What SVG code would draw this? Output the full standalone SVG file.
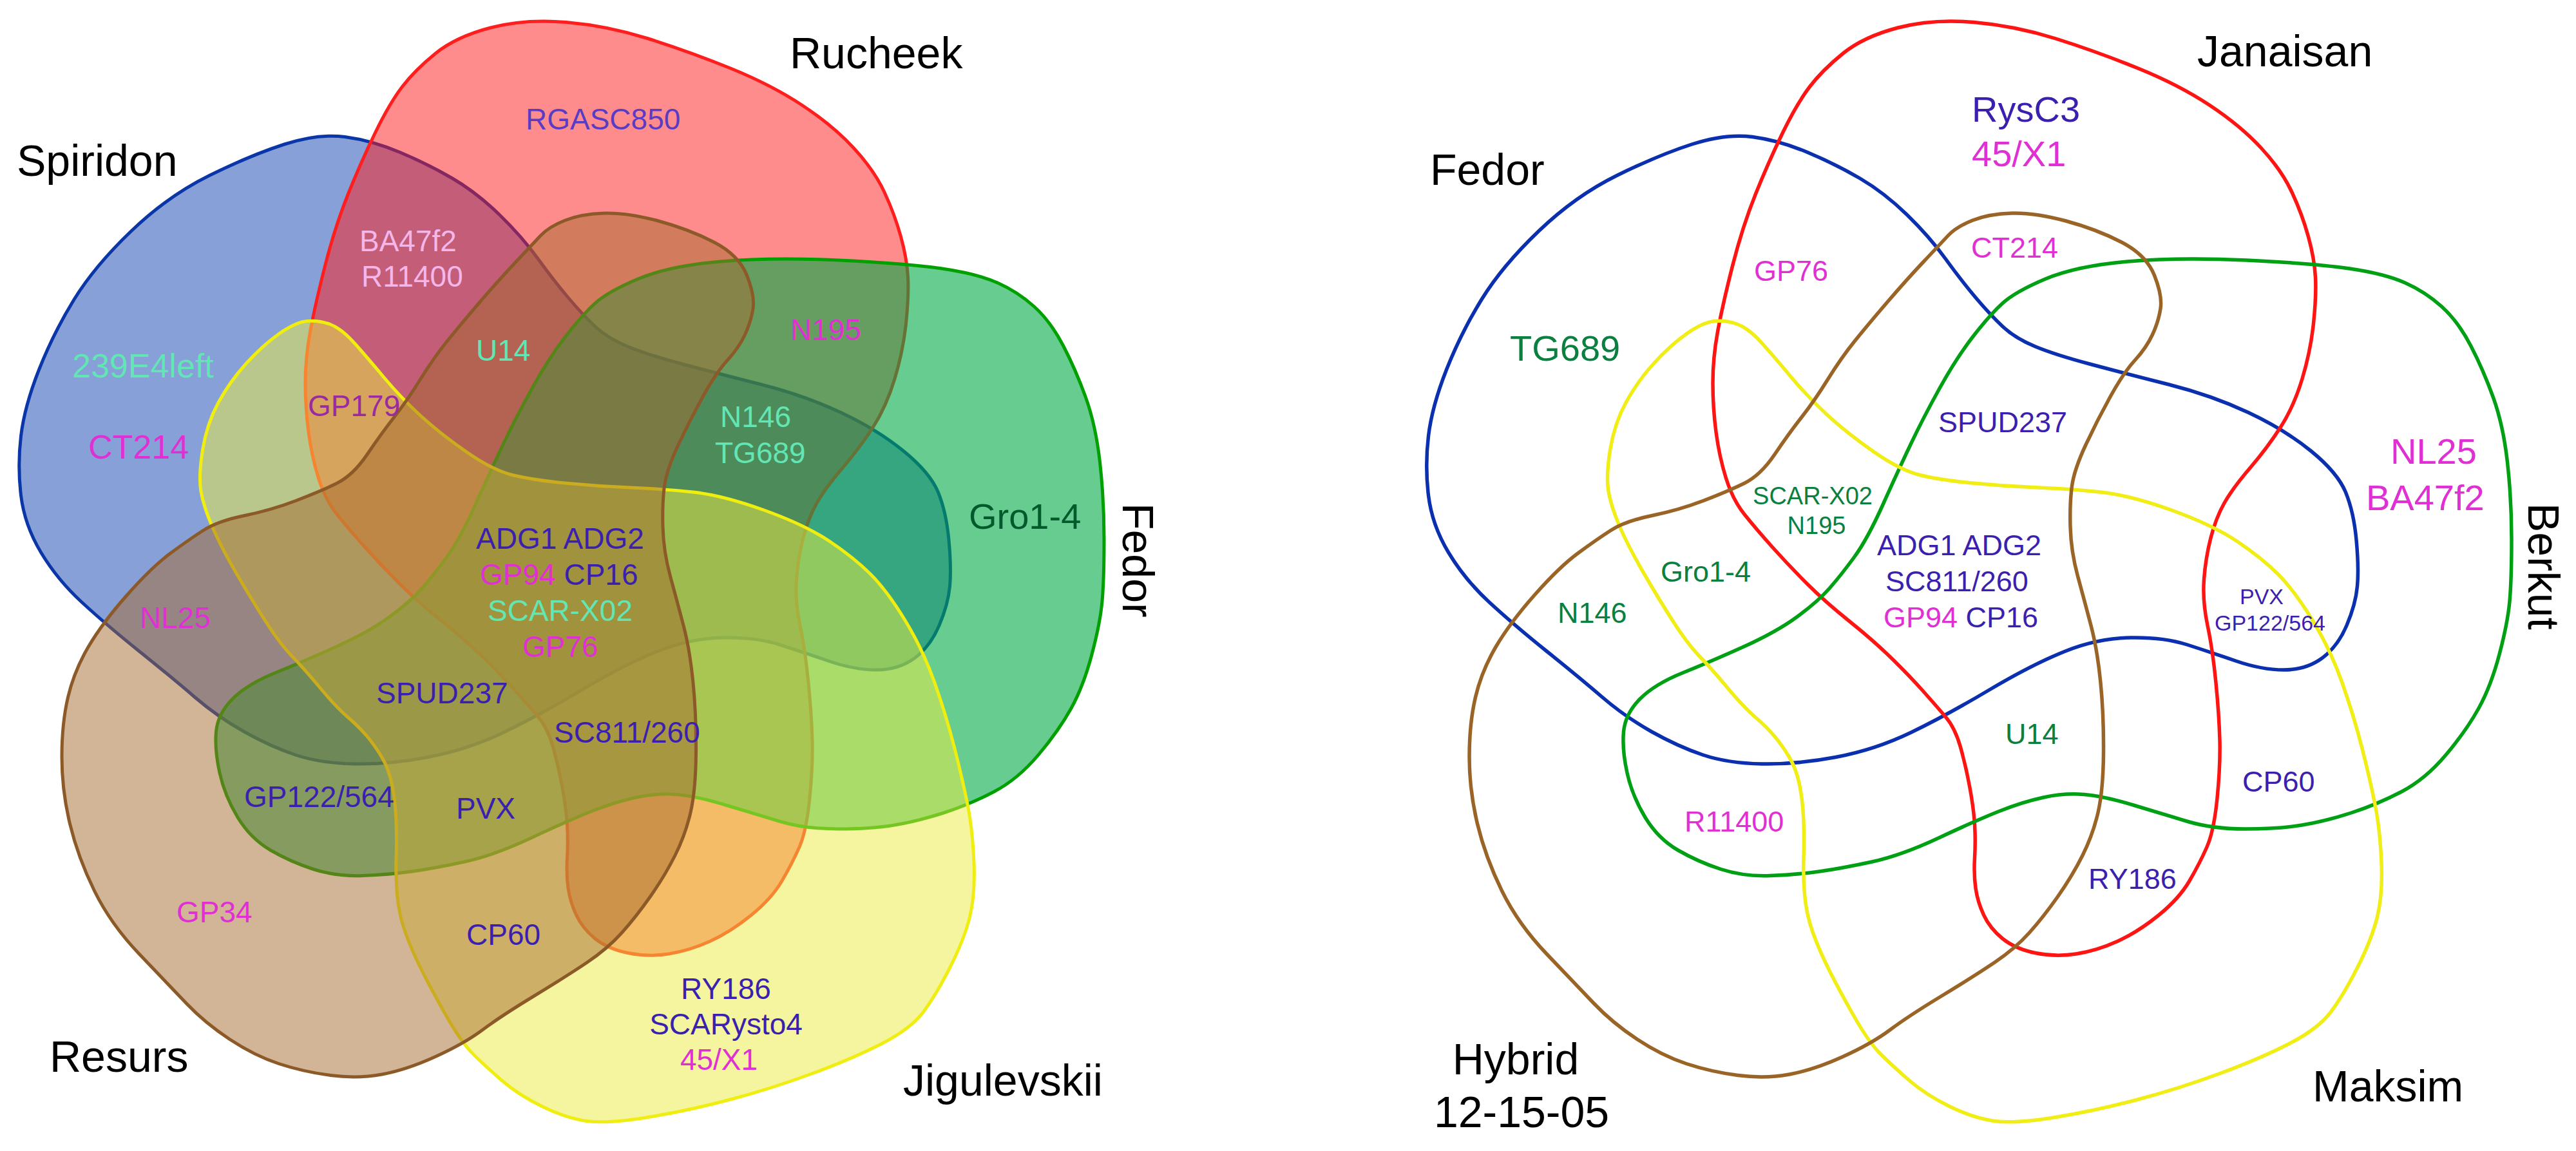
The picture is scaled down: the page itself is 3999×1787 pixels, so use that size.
<svg xmlns="http://www.w3.org/2000/svg" width="3999" height="1787" viewBox="0 0 3999 1787">
<style>
text{font-family:"Liberation Sans",Arial,Helvetica,sans-serif}
.t{font-size:68px;fill:#000}
.s{font-size:45px}
.sl{font-size:46px}
.m{font-size:56px}
.xs{font-size:38px}
.xxs{font-size:34px}
.ind{fill:#3b1fae}
.mag{fill:#e030d4}
.grn{fill:#0a8040}
.aq{fill:#62e6b4}
.pk{fill:#f5b6ea}
.pur{fill:#9a2aa0}
.dg{fill:#005a2c}
.L{transform:translate(-2185px,0px)}
.o{fill:none;stroke-width:5.5}
</style>
<defs>
<path id="pB" d="M2626.5,224 Q2679,207 2720.5,212.5 Q2762,218 2806,236.5 Q2850,255 2887.5,277 Q2925,299 2960,333 Q2995,367 3020,401.5 Q3045,436 3067,462 Q3089,488 3108.5,506.5 Q3128,525 3159.5,538 Q3191,551 3245.5,565.5 Q3300,580 3367,597 Q3434,614 3490.5,640.5 Q3547,667 3588,700.5 Q3629,734 3641.5,764.5 Q3654,795 3658,838.5 Q3662,882 3659.5,910 Q3657,938 3643,971 Q3629,1004 3604.5,1022 Q3580,1040 3545.5,1040 Q3511,1040 3470.5,1026 Q3430,1012 3394,1000.5 Q3358,989 3307,990 Q3256,991 3205,1011.5 Q3154,1032 3087.5,1071.5 Q3021,1111 2966,1137.5 Q2911,1164 2850,1175.5 Q2789,1187 2735.5,1186 Q2682,1185 2643.5,1172 Q2605,1159 2564,1136 Q2523,1113 2487.5,1082.5 Q2452,1052 2401,1011 Q2350,970 2312,935 Q2274,900 2248.5,857.5 Q2223,815 2217.5,769 Q2212,723 2217.5,677 Q2223,631 2245.5,574 Q2268,517 2300,465 Q2332,413 2389,358.5 Q2446,304 2510,272.5 Q2574,241 2626.5,224 Z"/>
<path id="pR" d="M2946.5,43 Q3000,29 3064,34.5 Q3128,40 3191.5,60 Q3255,80 3319,106 Q3383,132 3430.5,163.5 Q3478,195 3510,229.5 Q3542,264 3558,298.5 Q3574,333 3583.5,367.5 Q3593,402 3594.5,430.5 Q3596,459 3591.5,502 Q3587,545 3574,588 Q3561,631 3540.5,663 Q3520,695 3493,726.5 Q3466,758 3453,781 Q3440,804 3432,835 Q3424,866 3421.5,899.5 Q3419,933 3427,971 Q3435,1009 3440,1060 Q3445,1111 3446,1149.5 Q3447,1188 3442,1239 Q3437,1290 3426,1315 Q3415,1340 3399,1367.5 Q3383,1395 3351,1421 Q3319,1447 3287,1461.5 Q3255,1476 3223,1481 Q3191,1486 3159.5,1479.5 Q3128,1473 3108.5,1457 Q3089,1441 3079.5,1420.5 Q3070,1400 3067,1379 Q3064,1358 3065.5,1331.5 Q3067,1305 3065.5,1280.5 Q3064,1256 3058,1223 Q3052,1190 3043.5,1160 Q3035,1130 3020,1112.5 Q3005,1095 2985,1072.5 Q2965,1050 2937,1022.5 Q2909,995 2871,964.5 Q2833,934 2805,906 Q2777,878 2751.5,849.5 Q2726,821 2708,798.5 Q2690,776 2679.5,742.5 Q2669,709 2664,671 Q2659,633 2659,594.5 Q2659,556 2666.5,515 Q2674,474 2689.5,413 Q2705,352 2725.5,301 Q2746,250 2768,205 Q2790,160 2809.5,134.5 Q2829,109 2861,83 Q2893,57 2946.5,43 Z"/>
<path id="pG" d="M3303,406 Q3383,399 3488,404 Q3593,409 3647.5,417 Q3702,425 3733.5,439 Q3765,453 3790.5,476 Q3816,499 3835.5,536.5 Q3855,574 3870.5,617 Q3886,660 3892.5,717.5 Q3899,775 3899,837.5 Q3899,900 3896,933.5 Q3893,967 3880,1016 Q3867,1065 3848,1099.5 Q3829,1134 3797,1172 Q3765,1210 3727.5,1229.5 Q3690,1249 3650,1262 Q3610,1275 3573.5,1281 Q3537,1287 3486,1287 Q3435,1287 3396.5,1275.5 Q3358,1264 3312,1250 Q3266,1236 3235.5,1233.5 Q3205,1231 3172.5,1238 Q3140,1245 3103.5,1259.5 Q3067,1274 3009.5,1301 Q2952,1328 2906,1338 Q2860,1348 2824.5,1353 Q2789,1358 2748,1359.5 Q2707,1361 2671.5,1349.5 Q2636,1338 2605,1320 Q2574,1302 2554,1269 Q2534,1236 2526,1200 Q2518,1164 2520.5,1136 Q2523,1108 2546,1085 Q2569,1062 2612.5,1044.5 Q2656,1027 2707,1004 Q2758,981 2790,957.5 Q2822,934 2840,913.5 Q2858,893 2878.5,865 Q2899,837 2923,783.5 Q2947,730 2966.5,689 Q2986,648 3011.5,602 Q3037,556 3062.5,523 Q3088,490 3108,471.5 Q3128,453 3175.5,433 Q3223,413 3303,406 Z"/>
<path id="pY" d="M2662,498.5 Q2680,497 2697.5,503.5 Q2715,510 2735.5,533 Q2756,556 2781.5,586.5 Q2807,617 2837.5,645 Q2868,673 2909,701.5 Q2950,730 2980.5,737.5 Q3011,745 3062,750 Q3113,755 3164,757 Q3215,759 3261,764 Q3307,769 3371,792 Q3435,815 3473,840.5 Q3511,866 3536.5,891.5 Q3562,917 3590,963 Q3618,1009 3636,1060 Q3654,1111 3667,1162 Q3680,1213 3687.5,1251.5 Q3695,1290 3697,1339.5 Q3699,1389 3690.5,1423.5 Q3682,1458 3660,1501.5 Q3638,1545 3618.5,1571 Q3599,1597 3554.5,1620 Q3510,1643 3446.5,1666.5 Q3383,1690 3319,1707 Q3255,1724 3191.5,1734.5 Q3128,1745 3096,1740.5 Q3064,1736 3027,1718 Q2990,1700 2963.5,1677 Q2937,1654 2919,1636 Q2901,1618 2878,1577.5 Q2855,1537 2839.5,1506 Q2824,1475 2814,1447 Q2804,1419 2801.5,1388.5 Q2799,1358 2800,1332.5 Q2801,1307 2800,1276.5 Q2799,1246 2794,1220.5 Q2789,1195 2778.5,1177 Q2768,1159 2755.5,1144 Q2743,1129 2725,1113.5 Q2707,1098 2681.5,1067.5 Q2656,1037 2638,1018.5 Q2620,1000 2597.5,965 Q2575,930 2551,888.5 Q2527,847 2514,816.5 Q2501,786 2497,763 Q2493,740 2499.5,699 Q2506,658 2524,625 Q2542,592 2567.5,564 Q2593,536 2618.5,518 Q2644,500 2662,498.5 Z"/>
<path id="pN" d="M3123.5,331 Q3159,330 3207,343 Q3255,356 3293.5,376 Q3332,396 3344.5,427.5 Q3357,459 3354,479 Q3351,499 3341.5,519.5 Q3332,540 3314.5,559 Q3297,578 3276.5,615 Q3256,652 3238,690.5 Q3220,729 3216.5,754.5 Q3213,780 3214,818 Q3215,856 3225.5,894.5 Q3236,933 3246,971 Q3256,1009 3261,1060 Q3266,1111 3265.5,1169 Q3265,1227 3257,1261.5 Q3249,1296 3233,1328 Q3217,1360 3194.5,1392 Q3172,1424 3150,1448.5 Q3128,1473 3096,1494.5 Q3064,1516 3013,1547 Q2962,1578 2934,1599 Q2906,1620 2861,1640.5 Q2816,1661 2778,1668 Q2740,1675 2698,1669.5 Q2656,1664 2618,1651.5 Q2580,1639 2541.5,1613.5 Q2503,1588 2474.5,1558 Q2446,1528 2401.5,1481.5 Q2357,1435 2331.5,1383 Q2306,1331 2293.5,1279 Q2281,1227 2281,1175 Q2281,1123 2290.5,1082.5 Q2300,1042 2322,1004.5 Q2344,967 2382.5,923.5 Q2421,880 2449.5,859 Q2478,838 2500.5,823.5 Q2523,809 2564.5,800.5 Q2606,792 2644,777.5 Q2682,763 2707.5,750.5 Q2733,738 2755,705.5 Q2777,673 2797,647.5 Q2817,622 2837.5,589 Q2858,556 2878.5,530.5 Q2899,505 2929.5,469.5 Q2960,434 2985.5,407 Q3011,380 3024,366 Q3037,352 3062.5,342 Q3088,332 3123.5,331 Z"/>
</defs>
<rect width="3999" height="1787" fill="#fff"/>

<!-- LEFT DIAGRAM -->
<g id="left-sets">
<g id="spiridon"><use href="#pB" class="L" fill="rgb(15,65,175)" fill-opacity="0.5" stroke="#0a36a8" stroke-width="5"/></g>
<g id="rucheek"><use href="#pR" class="L" fill="rgb(255,25,25)" fill-opacity="0.5" stroke="#ff1e1e" stroke-width="5"/></g>
<g id="fedor-left"><use href="#pG" class="L" fill="rgb(0,170,70)" fill-opacity="0.6" stroke="#00a000" stroke-width="5"/></g>
<g id="jigulevskii"><use href="#pY" class="L" fill="rgb(235,235,65)" fill-opacity="0.5" stroke="#f0ee10" stroke-width="5"/></g>
<g id="resurs"><use href="#pN" class="L" fill="rgb(165,105,45)" fill-opacity="0.5" stroke="#8c5a28" stroke-width="5"/></g>
</g>
<g id="left-titles">
<text class="t" x="26" y="273">Spiridon</text>
<text class="t" x="1226" y="106">Rucheek</text>
<text class="t" x="1743" y="781" transform="rotate(90 1743 781)">Fedor</text>
<text class="t" x="1402" y="1701">Jigulevskii</text>
<text class="t" x="77" y="1664">Resurs</text>
</g>
<g id="left-labels">
<text class="sl" x="816" y="201" fill="#5a3cc4">RGASC850</text>
<text class="sl pk" x="558" y="390">BA47f2</text>
<text class="sl pk" x="561" y="445">R11400</text>
<text class="aq" style="font-size:52px" x="112" y="586">239E4left</text>
<text class="mag" style="font-size:52px" x="137" y="712">CT214</text>
<text class="sl aq" x="739" y="560">U14</text>
<text class="sl pur" x="478" y="646">GP179</text>
<text class="sl mag" x="1227" y="528">N195</text>
<text class="sl aq" x="1118" y="663">N146</text>
<text class="sl aq" x="1110" y="719">TG689</text>
<text class="m dg" x="1504" y="821">Gro1-4</text>
<text class="sl ind" x="739" y="852">ADG1 ADG2</text>
<text class="sl" x="745" y="908"><tspan class="mag">GP94</tspan><tspan class="ind"> CP16</tspan></text>
<text class="sl aq" x="757" y="964">SCAR-X02</text>
<text class="sl mag" x="811" y="1020">GP76</text>
<text class="sl mag" x="217" y="975">NL25</text>
<text class="sl ind" x="584" y="1092">SPUD237</text>
<text class="sl ind" x="860" y="1153">SC811/260</text>
<text class="sl ind" x="379" y="1253">GP122/564</text>
<text class="sl ind" x="708" y="1271">PVX</text>
<text class="sl mag" x="274" y="1432">GP34</text>
<text class="sl ind" x="724" y="1467">CP60</text>
<text class="sl ind" x="1127" y="1551" text-anchor="middle">RY186</text>
<text class="sl ind" x="1127" y="1606" text-anchor="middle">SCARysto4</text>
<text class="sl mag" x="1116" y="1661" text-anchor="middle">45/X1</text>
</g>

<!-- RIGHT DIAGRAM -->
<g id="right-sets">
<g id="fedor"><use href="#pB" class="o" stroke="#0a30b0"/></g>
<g id="janaisan"><use href="#pR" class="o" stroke="#ff1414"/></g>
<g id="berkut"><use href="#pG" class="o" stroke="#00a014"/></g>
<g id="maksim"><use href="#pY" class="o" stroke="#f0ee14"/></g>
<g id="hybrid"><use href="#pN" class="o" stroke="#9a6426"/></g>
</g>
<g id="right-titles">
<text class="t" x="2220" y="287">Fedor</text>
<text class="t" x="3411" y="103">Janaisan</text>
<text class="t" x="3925" y="781" transform="rotate(90 3925 781)">Berkut</text>
<text class="t" x="3590" y="1710">Maksim</text>
<text class="t" x="2353" y="1668" text-anchor="middle">Hybrid</text>
<text class="t" x="2362" y="1750" text-anchor="middle">12-15-05</text>
</g>
<g id="right-labels">
<text class="m ind" x="3061" y="189">RysC3</text>
<text class="m mag" x="3061" y="258">45/X1</text>
<text class="s mag" x="2723" y="436">GP76</text>
<text class="s mag" x="3060" y="400">CT214</text>
<text class="m grn" x="2344" y="560">TG689</text>
<text class="s ind" x="3009" y="671">SPUD237</text>
<text class="m mag" x="3711" y="720">NL25</text>
<text class="m mag" x="3673" y="792">BA47f2</text>
<text class="xs grn" x="2814" y="783" text-anchor="middle">SCAR-X02</text>
<text class="xs grn" x="2820" y="829" text-anchor="middle">N195</text>
<text class="s ind" x="2914" y="862">ADG1 ADG2</text>
<text class="s ind" x="2927" y="918">SC811/260</text>
<text class="s" x="2924" y="974"><tspan class="mag">GP94</tspan><tspan class="ind"> CP16</tspan></text>
<text class="s grn" x="2578" y="903">Gro1-4</text>
<text class="s grn" x="2418" y="967">N146</text>
<text class="xxs ind" x="3511" y="938" text-anchor="middle">PVX</text>
<text class="xxs ind" x="3524" y="979" text-anchor="middle">GP122/564</text>
<text class="s grn" x="3113" y="1155">U14</text>
<text class="s ind" x="3481" y="1229">CP60</text>
<text class="s mag" x="2615" y="1291">R11400</text>
<text class="s ind" x="3242" y="1380">RY186</text>
</g>
</svg>
